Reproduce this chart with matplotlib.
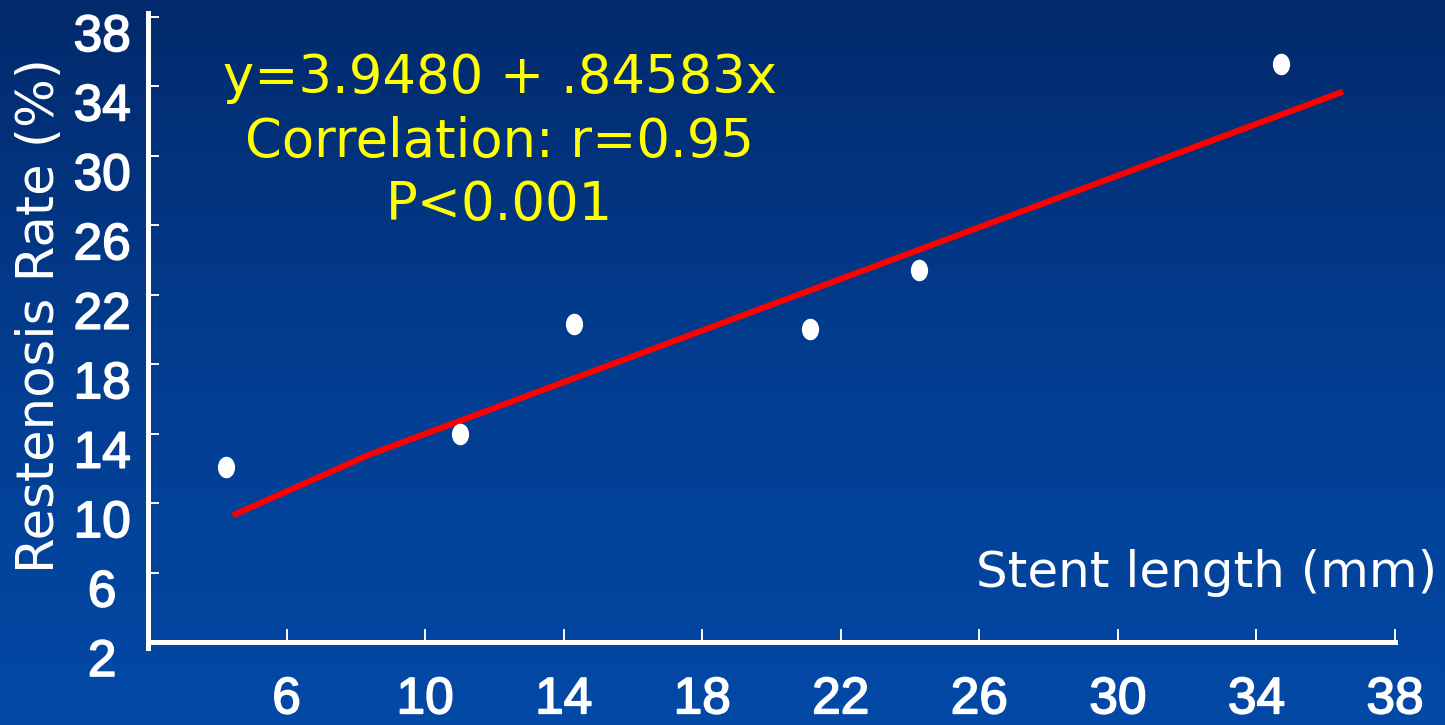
import numpy as np
import matplotlib.pyplot as plt
import matplotlib.patheffects as pe
from matplotlib.colors import LinearSegmentedColormap
from matplotlib.markers import MarkerStyle
from matplotlib.path import Path
from matplotlib.transforms import Affine2D, ScaledTranslation

# stent length (mm) vs restenosis rate (%)
stent_length = [4.25, 11.0, 14.3, 21.1, 24.25, 34.7]
restenosis = [12.1, 14.0, 20.3, 20.0, 23.4, 35.3]

# fitted trend line as drawn on the slide
fit_x = [4.45, 8.4, 36.5]
fit_y = [9.3, 12.8, 33.7]

x_ticks = [6, 10, 14, 18, 22, 26, 30, 34, 38]
y_ticks = [2, 6, 10, 14, 18, 22, 26, 30, 34, 38]

stats_lines = ["y=3.9480 + .84583x", "Correlation: r=0.95", "P<0.001"]

fig = plt.figure(figsize=(14.45, 7.25), dpi=100)

# slide background: vertical blue gradient
bg = fig.add_axes([0, 0, 1, 1], zorder=-1)
grad = np.linspace(0, 1, 256).reshape(-1, 1)
cmap = LinearSegmentedColormap.from_list("slide", ["#032a6c", "#023d90", "#0249a6"])
bg.imshow(grad, aspect="auto", cmap=cmap, extent=[0, 1, 0, 1], origin="upper")
bg.axis("off")

W, H = 1445, 725
ax = fig.add_axes([148 / W, 83 / H, (1395 - 148) / W, (642 - 17) / H])
ax.set_facecolor("none")
ax.set_xlim(2, 38)
ax.set_ylim(2, 38)

# oval white markers, a little taller than wide
oval = Path.unit_circle().transformed(Affine2D().scale(0.8, 1.0))
ax.plot(stent_length, restenosis, linestyle="none", marker=MarkerStyle(oval),
        markersize=15.5, color="white", markeredgewidth=0, zorder=3, clip_on=False)
ax.plot(fit_x, fit_y, color="#ff0000", linewidth=4.4, solid_capstyle="butt", zorder=2,
        clip_on=False)

for side in ["top", "right"]:
    ax.spines[side].set_visible(False)
for side in ["left", "bottom"]:
    ax.spines[side].set_color("white")
    ax.spines[side].set_linewidth(3.6)
ax.spines["left"].set_bounds(1.65, 38.23)

ax.set_xticks(x_ticks)
ax.set_yticks(y_ticks)
tick_font = dict(family="Liberation Sans", size=37)
ax.set_xticklabels([str(v) for v in x_ticks], fontdict=tick_font, color="white")
ax.set_yticklabels([str(v) for v in y_ticks], fontdict=tick_font, color="white")
ax.tick_params(axis="x", direction="in", length=9.5, width=1.4, color="white", pad=24)
ax.tick_params(axis="y", direction="in", length=8, width=1.4, color="white", pad=33)

# slightly heavier digits than the regular face
heavy = [pe.withStroke(linewidth=1.2, foreground="white")]
shift = ScaledTranslation(0, -0.15, fig.dpi_scale_trans)
for lbl in ax.get_yticklabels():
    lbl.set_ha("center")
    lbl.set_transform(lbl.get_transform() + shift)
    lbl.set_path_effects(heavy)
for lbl in ax.get_xticklabels():
    lbl.set_path_effects(heavy)

ax.set_ylabel("Restenosis Rate (%)", family="DejaVu Sans", size=37, color="white")
ax.yaxis.set_label_coords(-0.087, 0.522)
ax.yaxis.label.set_va("center")

ax.set_xlabel("Stent length (mm)", family="DejaVu Sans", size=36, color="white")
ax.xaxis.set_label_coords(0.849, 0.110)
ax.xaxis.label.set_va("center")

baselines = [0.8784, 0.776, 0.675]
for line, yb in zip(stats_lines, baselines):
    ax.text(0.282, yb, line, transform=ax.transAxes, ha="center", va="baseline",
            family="DejaVu Sans", size=38, color="#ffff00")

fig.savefig("out.png", dpi=100)
